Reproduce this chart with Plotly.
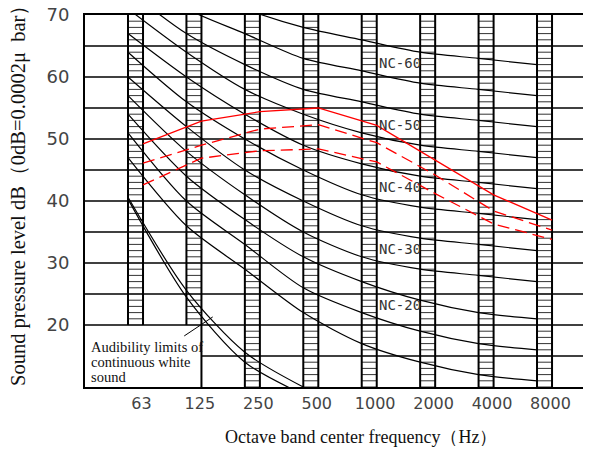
import plotly.graph_objects as go

# Octave bands (Hz)
bands = ['63', '125', '250', '500', '1000', '2000', '4000', '8000']

# NC curves, dB per octave band
nc_levels = [15, 20, 25, 30, 35, 40, 45, 50, 55, 60, 65]
nc_15 = [47, 36, 29, 22, 17, 14, 12, 11]
nc_20 = [51, 40, 33, 26, 22, 19, 17, 16]
nc_25 = [54, 44, 37, 31, 27, 24, 22, 21]
nc_30 = [57, 48, 41, 35, 31, 29, 28, 27]
nc_35 = [60, 52, 45, 40, 36, 34, 33, 32]
nc_40 = [64, 56, 50, 45, 41, 39, 38, 37]
nc_45 = [67, 60, 54, 49, 46, 44, 43, 42]
nc_50 = [71, 64, 58, 54, 51, 49, 48, 47]
nc_55 = [74, 67, 62, 58, 56, 54, 53, 52]
nc_60 = [77, 71, 67, 63, 61, 59, 58, 57]
nc_65 = [80, 75, 71, 68, 66, 64, 63, 62]
nc_curves = [nc_15, nc_20, nc_25, nc_30, nc_35, nc_40, nc_45, nc_50, nc_55, nc_60, nc_65]
nc_labelled = [20, 30, 40, 50, 60]

# audibility limits of continuous white sound (63..500 Hz)
audib_a = [40.3, 24.5, 14.0, 8.8]
audib_b = [40.6, 25.6, 15.6, 10.0]
audib_text = ['Audibility limits of', 'continuous white', 'sound']

# measured spectra (red)
red_solid = [49.2, 52.9, 54.4, 55.0, 52.2, 46.6, 41.0, 36.9]
red_dash1 = [46.1, 49.0, 51.6, 52.3, 49.4, 44.2, 38.4, 35.3]
red_dash2 = [42.6, 46.9, 48.1, 48.4, 46.3, 41.2, 36.3, 33.8]

y_ticks = [20, 30, 40, 50, 60, 70]

BW = 0.257          # width of the hatched band, in octaves
YMIN, YMAX = 10, 70
pos = list(range(len(bands)))

fig = go.Figure()

# horizontal grid every 5 dB (box at lower-left is left blank below 20 dB)
gx, gy = [], []
for v in range(15, 70, 5):
    x0 = -1 if v >= 20 else 1 + BW
    gx += [x0, 9, None]
    gy += [v, v, None]
fig.add_trace(go.Scatter(x=gx, y=gy, mode='lines',
                         line=dict(color='black', width=1.5), hoverinfo='skip'))

# hatching inside the bands
hx, hy = [], []
for i in pos:
    lo = 20 if i < 2 else YMIN
    for v in range(lo, YMAX):
        hx += [i, i + BW, None]
        hy += [v, v, None]
fig.add_trace(go.Scatter(x=hx, y=hy, mode='lines',
                         line=dict(color='#333', width=1), hoverinfo='skip'))

# band edges
ex, ey = [], []
for i in pos:
    lo_l = 20 if i < 2 else YMIN
    lo_r = 20 if i == 0 else YMIN
    ex += [i, i, None, i + BW, i + BW, None]
    ey += [lo_l, YMAX, None, lo_r, YMAX, None]
fig.add_trace(go.Scatter(x=ex, y=ey, mode='lines',
                         line=dict(color='black', width=2), hoverinfo='skip'))

# NC curves
for lvl, vals in zip(nc_levels, nc_curves):
    fig.add_trace(go.Scatter(x=pos, y=vals, mode='lines', name=f'NC-{lvl}',
                             line=dict(color='black', width=1.2, shape='spline', smoothing=0.8)))

# audibility limits
for vals in (audib_a, audib_b):
    fig.add_trace(go.Scatter(x=pos[:len(vals)], y=vals, mode='lines',
                             line=dict(color='black', width=1.2, shape='spline', smoothing=0.8)))

# red spectra, drawn at the right edge of each band
rx = [i + BW for i in pos]
fig.add_trace(go.Scatter(x=rx, y=red_solid, mode='lines',
                         line=dict(color='#ff0000', width=1.3)))
for vals in (red_dash1, red_dash2):
    fig.add_trace(go.Scatter(x=rx, y=vals, mode='lines',
                             line=dict(color='#ff0000', width=1.3, dash='12px,6px')))

annotations = []
i1000 = bands.index('1000')
for lvl in nc_labelled:
    curve = nc_curves[nc_levels.index(lvl)]
    annotations.append(dict(x=i1000 + BW + 0.01, y=curve[i1000] + 1.2, xanchor='left', yanchor='middle',
                            text=f'NC-{lvl}', showarrow=False,
                            font=dict(family='DejaVu Sans Mono', size=14, color='#333')))

for k, line in enumerate(audib_text):
    annotations.append(dict(xref='paper', x=0, xshift=4, y=14, yshift=15 * (1 - k),
                            xanchor='left', yanchor='middle', text=line, showarrow=False,
                            font=dict(family='Liberation Serif', size=14.5, color='#111')))

annotations += [
    dict(x=1.45, y=21.3, ax=-30, ay=20, text='', showarrow=True, arrowhead=0,
         arrowwidth=1, arrowcolor='black'),
    dict(xref='paper', yref='paper', x=0, y=0.5, xshift=-67, yshift=10, textangle=-90,
         xanchor='center', yanchor='middle',
         text='Sound pressure level dB（0dB=0.0002μ\u00a0 bar）', showarrow=False,
         font=dict(family='Liberation Serif', size=20.5, color='#111')),
    dict(xref='paper', yref='paper', x=0.545, y=0, yshift=-50, yanchor='middle',
         text='Octave band center frequency（Hz）', showarrow=False,
         font=dict(family='Liberation Serif', size=18, color='#111')),
]

# the page body adds an 8 px margin, so the figure is sized to end at the window edge
fig.update_layout(
    width=583, height=445,
    margin=dict(l=77, r=0, t=7, b=66),
    plot_bgcolor='white', paper_bgcolor='white',
    showlegend=False,
    hovermode=False,
    annotations=annotations,
    xaxis=dict(range=[-0.736, 7.924], showgrid=False, zeroline=False,
               showline=True, mirror=True, linecolor='black', linewidth=2,
               tickvals=[i + 0.23 for i in pos], ticktext=bands, ticks='',
               ticklabelstandoff=1,
               tickfont=dict(family='DejaVu Sans', size=16, color='#444')),
    yaxis=dict(range=[YMIN, YMAX], showgrid=False, zeroline=False,
               showline=True, linecolor='black', linewidth=2,
               tickvals=y_ticks, ticks='', ticklabelstandoff=10,
               ticklabeloverflow='allow', automargin=False,
               tickfont=dict(family='DejaVu Sans', size=18, color='#444')),
)

fig.write_html('out.html')
